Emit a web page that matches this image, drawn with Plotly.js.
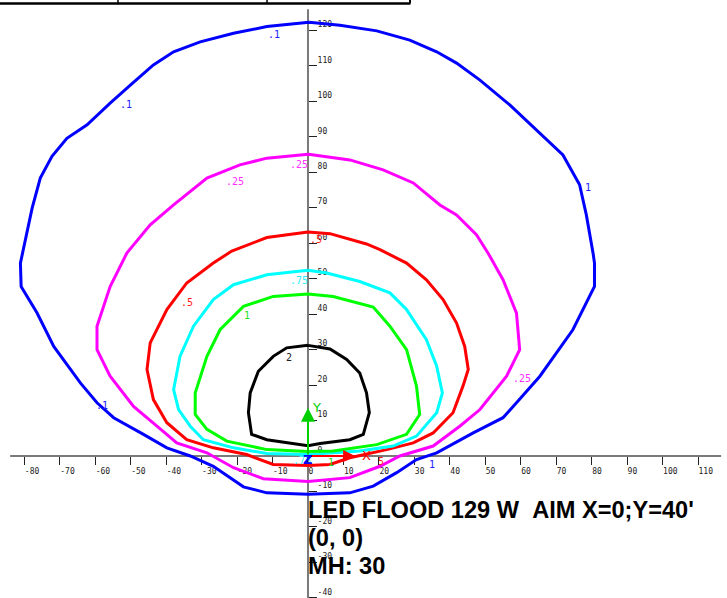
<!DOCTYPE html>
<html>
<head>
<meta charset="utf-8">
<script src="https://cdn.plot.ly/plotly-3.0.1.min.js"></script>
<style>html,body{margin:0;padding:0;background:#fff;}#chart{width:727px;height:598px;}</style>
</head>
<body>
<div id="chart"></div>
<script>
// ---- data (feet) ----
const levels = ['.1', '.25', '.5', '.75', '1', '2'];

const c01x = [0.3, -11.6, -21, -30.4, -37.9, -43.6, -50.1, -55.8, -62.3, -68, -72.2, -75.5, -77.8, -80.4, -81.1, -80.9, -76.4, -71.7, -64.2, -59.5, -54.8, -46.4, -39.8, -33.2, -26.7, -18.2, -11.6, 0, 11.8, 18.4, 25, 30.6, 36.3, 46.6, 55, 58.8, 65.4, 74.7, 80.8, 80.8, 80.4, 78.5, 76.6, 71.9, 64.4, 56.9, 48.5, 41.9, 36.3, 28.7, 19.4, 9, 0.3];
const c01y = [122.3, 121.1, 119.2, 116.8, 114, 110.3, 104.6, 99.5, 93.4, 89.6, 84.5, 78.4, 69.9, 57.2, 54.4, 47.8, 40.3, 30.9, 20.6, 15, 10.8, 6.1, 2.3, 0, -2.9, -8.7, -10.4, -10.8, -10.4, -8.5, -4.7, -1, 0.9, 6.5, 10.8, 15, 22.5, 35.6, 47.8, 54.4, 57.2, 68, 76.5, 84.9, 92, 99, 106, 110.8, 114, 117.3, 119.9, 121.5, 122.3];

const c025x = [0.1, -11.6, -19.2, -28.5, -37.9, -44.5, -51.1, -55.8, -59.5, -59.5, -55.8, -49.2, -42.6, -37, -28.5, -21, -12.6, 0, 11.8, 20.3, 25.9, 35.3, 42.8, 48.5, 56, 59.7, 58.8, 55, 50.8, 47.5, 41.9, 37.2, 29.7, 21.2, 11.8, 0.1];
const c025y = [85.1, 84, 82.1, 78.4, 70.8, 65.2, 57.2, 47.8, 36.6, 30, 22.5, 14, 8.4, 3.7, 0.9, -3.3, -6.4, -7.2, -6.1, -2.9, 0, 2.8, 8.4, 13.1, 22.5, 30, 40.3, 49.7, 57.2, 62.4, 68, 70.8, 77, 80.7, 83.5, 85.1];

const c05x = [0, -11.6, -21.5, -26.7, -34.2, -39.8, -44.5, -45.4, -43.6, -39.8, -34.2, -26.7, -17.3, -9.8, 0, 6.2, 11.8, 22.2, 29.7, 35.3, 40.9, 43.7, 45.2, 44.2, 41.9, 38.1, 33.4, 27.8, 20.3, 16.5, 6.2, 0];
const c05y = [63.2, 61.6, 57.8, 54.4, 48.8, 41.3, 31.9, 24.4, 15.9, 9.4, 4.6, 2.3, 0.4, -2.4, -2.7, -2.4, -0.5, 1.8, 3.7, 6.5, 12.2, 19.7, 24.4, 30.9, 37.5, 44.1, 49.7, 54.4, 58.2, 59.8, 62.7, 63.2];

const c075x = [0, -11.6, -21, -26.7, -32.3, -36.1, -37.9, -36.5, -33.2, -29.5, -21, -11.6, 0, 14.6, 24, 30.6, 36.3, 37.9, 36.3, 33.4, 27.8, 23.1, 14.6, 5.3, 0];
const c075y = [52.4, 51.1, 48.3, 44.1, 36.6, 28.1, 18.7, 13.1, 8.4, 4.6, 2.3, 0.7, 0.4, 1.4, 2.8, 5.6, 12.2, 17.8, 25.3, 32.8, 41.3, 46, 49.2, 51.6, 52.4];

const c1x = [0, -9.8, -18.2, -24.8, -28.5, -31.8, -31.8, -28.5, -22.9, -11.6, 0, 7.1, 19.4, 27.8, 31.5, 30.6, 27.8, 23.1, 18.4, 7.1, 0];
const c1y = [45.7, 45, 42.2, 35.6, 28.1, 17.8, 11.7, 7.5, 4.2, 1.8, 1.3, 1.4, 3.2, 6.1, 11.7, 19.7, 30, 36.6, 42, 45, 45.7];

const c2x = [0, -6, -9.8, -14, -16.3, -16.8, -15.9, -11.6, 0, 3.4, 11.8, 15.6, 17.3, 16.5, 14.6, 10.9, 6.2, 0];
const c2y = [31.2, 30.5, 28.1, 23.9, 17.8, 12.2, 6.1, 4.6, 2.9, 3.5, 4.6, 6.1, 12.2, 17.8, 23.4, 27.2, 30.2, 31.2];

// contour value labels
const labelText  = ['.1', '.1', '1', '.1', '1', '.25', '.25', '.25', '.5', '.5', '5', '.75', '.75', '1', '1', '2'];
const labelLevel = [0, 0, 0, 0, 0, 1, 1, 1, 2, 2, 2, 3, 3, 4, 4, 5];
const labelX = [-9.6, -51.3, 78.9, -58.0, 35.0, -20.6, -2.6, 60.3, -34.0, 2.2, 20.7, -2.6, -1.8, -17.3, 6.6, -5.3];
const labelY = [118.8, 99.2, 75.7, 14.2, -2.5, 77.3, 82.1, 21.8, 43.4, 61.0, -1.6, 49.5, -1.4, 39.7, -1.7, 27.9];

const xTicks = [-80, -70, -60, -50, -40, -30, -20, -10, 0, 10, 20, 30, 40, 50, 60, 70, 80, 90, 100, 110];
const yTicks = [-40, -30, -20, -10, 0, 10, 20, 30, 40, 50, 60, 70, 80, 90, 100, 110, 120];

const titleLines = ["LED FLOOD 129 W\u00A0\u00A0AIM X=0;Y=40'", "(0, 0)", "MH: 30"];

// ---- styling ----
const colors = ['#0000ff', '#ff00ff', '#ff0000', '#00ffff', '#00ff00', '#000000'];
const labelColors = ['#2020ff', '#ff30ff', '#ff2020', '#30f0ff', '#20e020', '#202020'];
const xs = [c01x, c025x, c05x, c075x, c1x, c2x];
const ys = [c01y, c025y, c05y, c075y, c1y, c2y];

const xRange = [-86.86, 118.17];
const yRange = [-40.05, 128.6];

const traces = xs.map((x, i) => ({
  type: 'scatter', mode: 'lines', x: x, y: ys[i], name: levels[i],
  line: {color: colors[i], width: 3, shape: 'linear'},
  hoverinfo: 'skip'
}));

const annotations = labelText.map((t, i) => ({
  x: labelX[i], y: labelY[i], xref: 'x', yref: 'y', text: t, showarrow: false,
  font: {family: 'DejaVu Sans Mono', size: 10, color: labelColors[labelLevel[i]]},
  xanchor: 'center', yanchor: 'middle'
}));

// axis markers at origin
annotations.push({x: 0, y: 13.6, ax: 0, ay: 0, xref: 'x', yref: 'y', axref: 'x', ayref: 'y',
  text: '', showarrow: true, arrowhead: 2, arrowsize: 1.4, arrowwidth: 2, arrowcolor: '#00d000'});
annotations.push({x: 2.3, y: 13.6, xref: 'x', yref: 'y', text: 'Y', showarrow: false,
  font: {family: 'DejaVu Sans', size: 13, color: '#00d000'}, xanchor: 'center', yanchor: 'middle'});
annotations.push({x: 13.3, y: 0, ax: 0, ay: 0, xref: 'x', yref: 'y', axref: 'x', ayref: 'y',
  text: '', showarrow: true, arrowhead: 2, arrowsize: 1.2, arrowwidth: 2, arrowcolor: '#ff0000'});
annotations.push({x: 16.6, y: 0, xref: 'x', yref: 'y', text: 'X', showarrow: false,
  font: {family: 'DejaVu Sans', size: 13, color: '#ff0000'}, xanchor: 'center', yanchor: 'middle'});
annotations.push({x: 0, y: -1.1, xref: 'x', yref: 'y', text: '<b>Z</b>', showarrow: false,
  font: {family: 'DejaVu Sans', size: 13, color: '#0000ff'}, xanchor: 'center', yanchor: 'middle'});

// title block
const titleY = [-15.1, -23.1, -31.1];
titleLines.forEach((t, i) => annotations.push({
  x: 0, y: titleY[i], xref: 'x', yref: 'y', text: '<b>' + t + '</b>', showarrow: false,
  font: {family: 'Liberation Sans, Arial, sans-serif', size: 23.6, color: '#000'},
  xanchor: 'left', yanchor: 'middle', xshift: -2
}));

const shapes = [
  // axis lines
  {type: 'line', xref: 'x', yref: 'y', x0: -84.0, x1: 116.5, y0: 0, y1: 0, line: {color: '#7a7a7a', width: 2}, layer: 'below'},
  {type: 'line', xref: 'x', yref: 'y', x0: 0, x1: 0, y0: yRange[0], y1: 126.0, line: {color: '#7a7a7a', width: 2}, layer: 'below'},
  // cropped table border at top
  {type: 'line', xref: 'paper', yref: 'paper', x0: 0, x1: 0.5645, y0: 0.9942, y1: 0.9942, line: {color: '#000', width: 2.5}},
  {type: 'line', xref: 'paper', yref: 'paper', x0: 0.1623, x1: 0.1623, y0: 0.9942, y1: 1, line: {color: '#000', width: 1.5}},
  {type: 'line', xref: 'paper', yref: 'paper', x0: 0.3673, x1: 0.3673, y0: 0.9942, y1: 1, line: {color: '#000', width: 1.5}},
  {type: 'line', xref: 'paper', yref: 'paper', x0: 0.5640, x1: 0.5640, y0: 0.9942, y1: 1, line: {color: '#000', width: 2}}
];

const tickFont = {family: 'DejaVu Sans Mono', size: 8, color: '#222'};

const layout = {
  width: 727, height: 598, autosize: false,
  margin: {l: 0, r: 0, t: 0, b: 0, pad: 0},
  paper_bgcolor: '#fff', plot_bgcolor: '#fff',
  showlegend: false,
  xaxis: {
    range: xRange, fixedrange: true, showgrid: false, zeroline: false, showline: false,
    anchor: 'free', position: (0 - yRange[0]) / (yRange[1] - yRange[0]),
    tickmode: 'array', tickvals: xTicks, ticktext: xTicks.map(String),
    ticks: 'outside', ticklen: 8, tickwidth: 1, tickcolor: '#222',
    ticklabelposition: 'outside right', ticklabelstandoff: 7,
    tickfont: tickFont, layer: 'below traces'
  },
  yaxis: {
    range: yRange, fixedrange: true, showgrid: false, zeroline: false, showline: false,
    anchor: 'free', side: 'right', position: (0 - xRange[0]) / (xRange[1] - xRange[0]),
    tickmode: 'array', tickvals: yTicks, ticktext: yTicks.map(String),
    ticks: 'outside', ticklen: 8, tickwidth: 1, tickcolor: '#222',
    ticklabelposition: 'outside top', ticklabelstandoff: 7,
    tickfont: tickFont, layer: 'below traces'
  },
  shapes: shapes,
  annotations: annotations
};

Plotly.newPlot('chart', traces, layout, {staticPlot: true, displayModeBar: false});
</script>
</body>
</html>
